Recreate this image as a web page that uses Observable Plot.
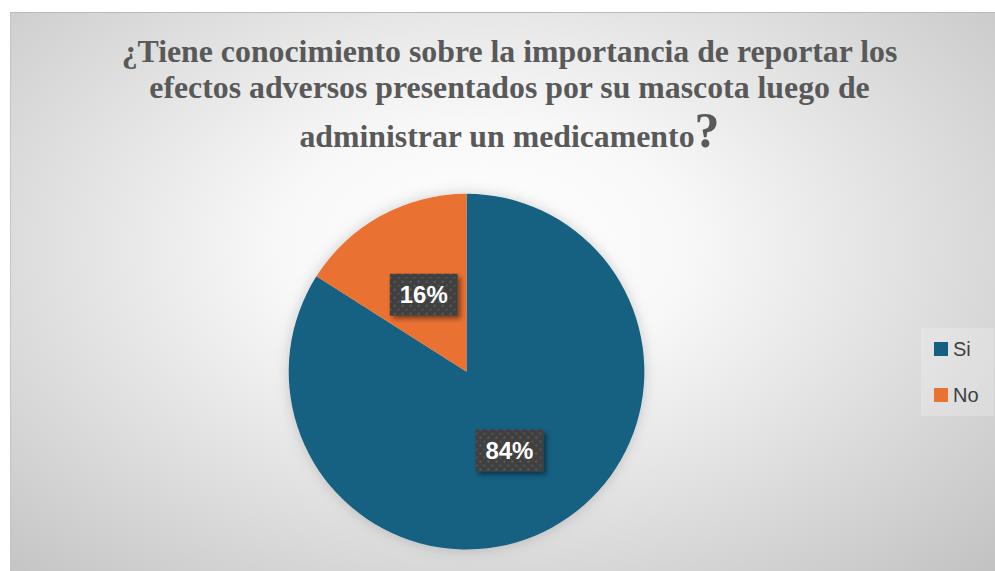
<!DOCTYPE html>
<html><head><meta charset="utf-8">
<script src="https://cdn.jsdelivr.net/npm/d3@7"></script>
<script src="https://cdn.jsdelivr.net/npm/@observablehq/plot@0.6"></script>
<style>
body{margin:0;background:#fff;}
#wrap{position:relative;width:995px;height:571px;overflow:hidden;background:#fff;}
#area{position:absolute;left:10px;top:12px;width:985px;height:559px;box-sizing:border-box;
  border-top:1px solid #b9b9b9;border-left:1px solid #c4c4c4;
  background:radial-gradient(ellipse farthest-corner at 48% 42%, #ffffff 0%, #f8f8f8 28%, #c2c2c2 100%);}
.t{position:absolute;left:6px;width:985px;text-align:center;font-family:"Liberation Serif",serif;font-weight:bold;font-size:31.8px;line-height:32px;color:#595959;white-space:nowrap;}
.q{font-size:50px;line-height:0;}
#plot{position:absolute;left:0;top:0;}
#legend{position:absolute;left:910px;top:315px;width:73px;height:88px;background:rgba(255,255,255,0.22);font-family:"Liberation Sans",Arial,sans-serif;font-size:20px;color:#404040;}
.li{position:absolute;left:13px;height:20px;display:flex;align-items:center;}
.sw{width:14px;height:14px;margin-right:5px;}
</style></head>
<body>
<div id="wrap"><div id="area">
  <div class="t" style="top:23px">¿Tiene conocimiento sobre la importancia de reportar los</div>
  <div class="t" style="top:59px">efectos adversos presentados por su mascota luego de</div>
  <div class="t" style="top:108px">administrar un medicamento<span class="q">?</span></div>
  <div id="plot"></div>
  <div id="legend"></div>
</div></div>
<script>
const categories = ["Si", "No"];
const values = [84, 16];
const colors = ["#156082", "#E97132"];
const labels = ["84%", "16%"];

const data = categories.map((c, i) => ({category: c, value: values[i], label: labels[i]}));

function pieMark(rows) {
  return (index, scales, vals, dims) => {
    const fw = dims.width - dims.marginLeft - dims.marginRight;
    const fh = dims.height - dims.marginTop - dims.marginBottom;
    const cx = dims.marginLeft + fw / 2;
    const cy = dims.marginTop + fh / 2;
    const r = Math.min(fw, fh) / 2;
    const color = scales.color || d3.scaleOrdinal(categories, colors);
    const arcs = d3.pie().sort(null).value(d => d.value)(rows);
    const arc = d3.arc().innerRadius(0).outerRadius(r);
    const g = d3.create("svg:g");
    const defs = g.append("defs");
    const pf = defs.append("filter").attr("id", "pieShadow").attr("x", "-20%").attr("y", "-20%").attr("width", "140%").attr("height", "140%");
    pf.append("feDropShadow").attr("dx", 0).attr("dy", 0).attr("stdDeviation", 7).attr("flood-color", "#000").attr("flood-opacity", 0.18);
    const lf = defs.append("filter").attr("id", "lblShadow").attr("x", "-20%").attr("y", "-20%").attr("width", "150%").attr("height", "150%");
    lf.append("feDropShadow").attr("dx", 3).attr("dy", 3).attr("stdDeviation", 2.5).attr("flood-color", "#000").attr("flood-opacity", 0.45);
    const pat = defs.append("pattern").attr("id", "dots").attr("patternUnits", "userSpaceOnUse").attr("width", 8).attr("height", 8);
    pat.append("rect").attr("width", 8).attr("height", 8).attr("fill", "#404040");
    pat.append("rect").attr("x", 2).attr("y", 2).attr("width", 2).attr("height", 2).attr("fill", "#5c5c5c");
    pat.append("rect").attr("x", 6).attr("y", 6).attr("width", 2).attr("height", 2).attr("fill", "#545454");
    const root = g.append("g").attr("transform", `translate(${cx},${cy})`);
    root.append("g").attr("filter", "url(#pieShadow)")
      .selectAll("path").data(arcs).join("path")
      .attr("d", arc).attr("fill", d => color(d.data.category));
    const lg = root.append("g").selectAll("g").data(arcs).join("g")
      .attr("transform", d => { const [x, y] = arc.centroid(d); return `translate(${x},${y + 1})`; });
    lg.append("rect").attr("x", -34).attr("y", -21).attr("width", 68).attr("height", 42)
      .attr("fill", "url(#dots)").attr("filter", "url(#lblShadow)");
    lg.append("text").attr("text-anchor", "middle").attr("dy", "0.36em")
      .attr("fill", "#fff").attr("font-family", "Liberation Sans, Arial, sans-serif")
      .attr("font-weight", "bold").attr("font-size", 24).text(d => d.data.label);
    return g.node();
  };
}

const chart = Plot.plot({
  width: 985,
  height: 559,
  marginLeft: 0,
  marginRight: 73,
  marginTop: 181,
  marginBottom: 22,
  x: {axis: null, domain: [0, 1]},
  y: {axis: null, domain: [0, 1]},
  color: {domain: categories, range: colors},
  style: {background: "transparent", overflow: "visible"},
  marks: [
    Plot.dot(data, {x: () => 0.5, y: () => 0.5, fill: "category", r: 0}),
    pieMark(data)
  ]
});
document.getElementById("plot").appendChild(chart);

const legend = d3.select("#legend");
categories.forEach((c, i) => {
  const it = legend.append("div").attr("class", "li").style("top", (i === 0 ? 11 : 57) + "px");
  it.append("div").attr("class", "sw").style("background", colors[i]);
  it.append("span").text(c);
});
</script>
</body></html>
